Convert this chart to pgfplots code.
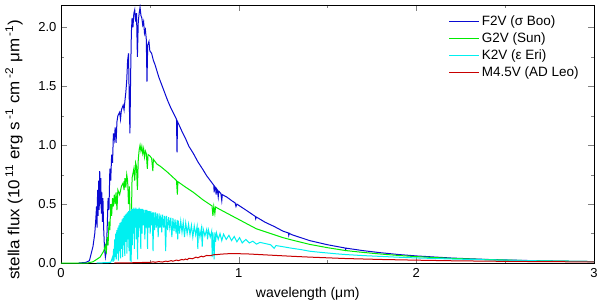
\documentclass[border=0pt]{standalone}
\usepackage{pgfplots}
\pgfplotsset{compat=1.18}
\usepackage{graphicx}
\usepackage{fontspec}
\setmainfont{Liberation Sans}
\definecolor{cF}{RGB}{10,10,210}
\definecolor{cG}{RGB}{0,235,0}
\definecolor{cK}{RGB}{0,240,240}
\definecolor{cM}{RGB}{200,0,0}
\begin{document}
\begin{tikzpicture}
\begin{axis}[
  name=ax,
  scale only axis, width=533pt, height=258pt,
  xmin=0, xmax=3, ymin=0, ymax=2.19,
  xtick={0,1,2,3}, minor x tick num=1,
  ytick={0,0.5,1,1.5,2}, minor y tick num=1,
  tick pos=both, tick align=inside,
  major tick length=6pt, minor tick length=3.5pt,
  /pgf/number format/assume math mode=true,
  yticklabel style={/pgf/number format/fixed, /pgf/number format/fixed zerofill, /pgf/number format/precision=1, xshift=-1pt},
  every tick label/.append style={font=\fontsize{13}{15}\selectfont},
  xticklabel style={yshift=-2pt},
  xlabel={wavelength (μm)},
  ylabel={\scalebox{1.06}[1]{stella flux (10\kern0.15em\textsuperscript{11} erg s\kern0.15em\textsuperscript{-1} cm\kern0.15em\textsuperscript{-2} μm\kern0.15em\textsuperscript{-1})}},
  xlabel style={font=\fontsize{14}{16}\selectfont, at={(axis description cs:0.463,-0.12)}, anchor=center},
  ylabel style={font=\fontsize{16}{18}\selectfont, at={(axis description cs:-0.088,0.44)}, anchor=center},
  legend style={draw=none, fill=none, at={(0.981,0.973)}, anchor=north east,
    font=\fontsize{13.5}{15}\selectfont, row sep=1.5pt},
  legend cell align=left,
  legend image code/.code={\draw[#1] (0pt,0pt) -- (30pt,0pt);},
  every axis plot/.append style={line width=1pt},
]
\addplot[cF] coordinates {
(0.10,0) (0.14,0.005) (0.16,0.02) (0.17,0.08) (0.18,0.14) (0.19,0.25) (0.195,0.35)
(0.20,0.48) (0.203,0.30) (0.206,0.62) (0.209,0.40) (0.212,0.70) (0.215,0.45) (0.218,0.78)
(0.221,0.50) (0.224,0.72) (0.227,0.42) (0.230,0.60) (0.233,0.35) (0.236,0.55) (0.240,0.30)
(0.245,0.12) (0.25,0.05) (0.255,0.10) (0.26,0.30) (0.265,0.55) (0.27,0.45) (0.275,0.80)
(0.28,0.70) (0.285,0.92) (0.29,0.85) (0.295,1.10) (0.30,1.05) (0.305,1.15) (0.31,1.02)
(0.315,1.20) (0.32,1.25) (0.33,1.28) (0.335,1.22) (0.34,1.30) (0.35,1.34) (0.355,1.30)
(0.36,1.38) (0.365,1.45) (0.37,1.55) (0.375,1.72) (0.38,1.78) (0.384,1.40) (0.388,1.10)
(0.392,1.60) (0.396,1.95) (0.40,2.08) (0.405,2.00) (0.41,2.12) (0.415,2.15) (0.42,2.05)
(0.425,2.12) (0.43,1.75) (0.435,2.05) (0.44,2.12) (0.445,2.17) (0.45,2.10) (0.455,2.08)
(0.46,2.02) (0.465,2.05) (0.47,1.95) (0.475,1.98) (0.48,1.90) (0.484,1.54) (0.488,1.85)
(0.495,1.88) (0.50,1.80) (0.51,1.78) (0.52,1.72) (0.53,1.68) (0.54,1.63) (0.55,1.58)
(0.56,1.54) (0.58,1.46) (0.60,1.38) (0.62,1.31) (0.64,1.25) (0.65,1.22) (0.653,0.94)
(0.656,1.20) (0.68,1.12) (0.70,1.06) (0.72,0.99) (0.745,0.93) (0.77,0.86) (0.80,0.79)
(0.82,0.74) (0.84,0.70) (0.86,0.66) (0.862,0.60) (0.865,0.65) (0.87,0.64) (0.873,0.58)
(0.876,0.63) (0.88,0.62) (0.885,0.56) (0.888,0.61) (0.90,0.59) (0.905,0.53) (0.908,0.58)
(0.933,0.56) (0.96,0.53) (0.98,0.51) (0.985,0.48) (0.99,0.50) (1.00,0.49) (1.05,0.44)
(1.094,0.395) (1.096,0.375) (1.10,0.39) (1.15,0.345) (1.20,0.31) (1.25,0.27) (1.28,0.255)
(1.282,0.235) (1.285,0.252) (1.30,0.24) (1.40,0.19) (1.50,0.155) (1.60,0.127) (1.602,0.115)
(1.605,0.126) (1.70,0.105) (1.80,0.087) (1.90,0.072) (2.0,0.06) (2.2,0.042) (2.4,0.03)
(2.6,0.022) (2.8,0.016) (3.0,0.012)
};
\addlegendentry{F2V (σ Boo)}
\addplot[cG] coordinates {
(0,0) (0.15,0) (0.18,0.01) (0.20,0.03) (0.22,0.05) (0.24,0.10) (0.25,0.15) (0.255,0.08)
(0.26,0.22) (0.265,0.15) (0.27,0.35) (0.275,0.28) (0.28,0.50) (0.285,0.40) (0.29,0.55)
(0.295,0.48) (0.30,0.58) (0.305,0.50) (0.31,0.60) (0.315,0.45) (0.32,0.62) (0.33,0.58)
(0.34,0.65) (0.35,0.68) (0.355,0.62) (0.36,0.72) (0.365,0.64) (0.37,0.75) (0.375,0.70)
(0.38,0.50) (0.385,0.65) (0.39,0.28) (0.393,0.25) (0.397,0.45) (0.40,0.72) (0.41,0.80)
(0.415,0.70) (0.42,0.85) (0.425,0.82) (0.43,0.62) (0.435,0.88) (0.44,0.96) (0.445,1.00)
(0.45,0.95) (0.455,0.99) (0.46,0.93) (0.465,0.97) (0.47,0.90) (0.475,0.95) (0.48,0.93)
(0.486,0.80) (0.49,0.92) (0.50,0.91) (0.51,0.89) (0.517,0.78) (0.52,0.88) (0.53,0.86)
(0.54,0.84) (0.56,0.82) (0.60,0.77) (0.65,0.70) (0.655,0.58) (0.658,0.69) (0.70,0.645)
(0.745,0.60) (0.80,0.535) (0.85,0.485) (0.855,0.40) (0.86,0.48) (0.866,0.42) (0.87,0.475)
(0.90,0.45) (0.95,0.41) (1.00,0.37) (1.05,0.33) (1.10,0.29) (1.15,0.265) (1.20,0.24)
(1.25,0.215) (1.30,0.195) (1.40,0.158) (1.50,0.13) (1.60,0.106) (1.70,0.09) (1.80,0.076)
(1.90,0.064) (2.0,0.054) (2.2,0.039) (2.4,0.029) (2.6,0.021) (2.8,0.016) (3.0,0.012)
};
\addlegendentry{G2V (Sun)}
\addplot[cK] coordinates {
(0.20,0) (0.28,0.005) (0.29,0.05) (0.293,0.01) (0.296,0.12) (0.299,0.02) (0.302,0.20)
(0.305,0.05) (0.308,0.25) (0.311,0.03) (0.314,0.28) (0.317,0.08) (0.320,0.30) (0.323,0.02)
(0.326,0.32) (0.329,0.10) (0.332,0.34) (0.335,0.04) (0.338,0.35) (0.341,0.12) (0.344,0.37)
(0.347,0.05) (0.350,0.38) (0.353,0.15) (0.356,0.40) (0.359,0.06) (0.362,0.41) (0.365,0.18)
(0.368,0.42) (0.371,0.08) (0.374,0.43) (0.377,0.20) (0.380,0.44) (0.383,0.10) (0.386,0.45)
(0.389,0.02) (0.392,0.44) (0.395,0.01) (0.398,0.46) (0.401,0.15) (0.404,0.46) (0.407,0.25)
(0.410,0.47) (0.413,0.12) (0.416,0.46) (0.419,0.30) (0.422,0.47) (0.425,0.20) (0.428,0.46)
(0.431,0.03) (0.434,0.46) (0.437,0.22) (0.440,0.47) (0.443,0.30) (0.446,0.46) (0.449,0.12)
(0.452,0.46) (0.456,0.25) (0.460,0.46) (0.464,0.32) (0.468,0.45) (0.472,0.20) (0.476,0.45)
(0.480,0.30) (0.484,0.45) (0.487,0.12) (0.490,0.44) (0.494,0.30) (0.498,0.44) (0.502,0.25)
(0.506,0.44) (0.510,0.32) (0.514,0.43) (0.518,0.10) (0.522,0.43) (0.527,0.28) (0.532,0.43)
(0.537,0.30) (0.542,0.42) (0.547,0.22) (0.552,0.42) (0.557,0.30) (0.562,0.41) (0.567,0.26)
(0.572,0.41) (0.578,0.30) (0.584,0.40) (0.589,0.10) (0.594,0.40) (0.600,0.28) (0.606,0.39)
(0.612,0.30) (0.618,0.385) (0.624,0.22) (0.630,0.38) (0.636,0.27) (0.642,0.37) (0.648,0.25)
(0.654,0.365) (0.657,0.20) (0.660,0.36) (0.667,0.25) (0.674,0.355) (0.681,0.26) (0.688,0.345)
(0.695,0.22) (0.702,0.34) (0.710,0.25) (0.718,0.33) (0.726,0.24) (0.734,0.32) (0.742,0.22)
(0.750,0.315) (0.758,0.24) (0.766,0.31) (0.770,0.12) (0.774,0.30) (0.782,0.22) (0.790,0.295)
(0.795,0.14) (0.800,0.29) (0.810,0.23) (0.820,0.285) (0.825,0.20) (0.830,0.28) (0.840,0.22)
(0.848,0.27) (0.851,0.05) (0.855,0.26) (0.862,0.03) (0.866,0.26) (0.870,0.18) (0.875,0.255)
(0.885,0.20) (0.895,0.25) (0.905,0.19) (0.915,0.245) (0.930,0.20) (0.945,0.235) (0.960,0.19)
(0.975,0.225) (0.990,0.18) (1.005,0.215) (1.02,0.17) (1.04,0.20) (1.06,0.17) (1.08,0.185)
(1.10,0.16) (1.12,0.175) (1.15,0.165) (1.18,0.155) (1.20,0.125) (1.21,0.148) (1.25,0.138)
(1.30,0.125) (1.35,0.114) (1.40,0.10) (1.45,0.092) (1.50,0.085) (1.55,0.078) (1.60,0.072)
(1.70,0.063) (1.80,0.056) (1.90,0.049) (2.00,0.043) (2.20,0.034) (2.40,0.027) (2.60,0.021)
(2.80,0.016) (3.00,0.012)
};
\addlegendentry{K2V (ε Eri)}
\addplot[cM] coordinates {
(0.30,0) (0.40,0.002) (0.45,0.004) (0.50,0.006) (0.52,0.01) (0.53,0.006) (0.55,0.012)
(0.57,0.008) (0.59,0.016) (0.60,0.012) (0.62,0.02) (0.63,0.015) (0.65,0.025) (0.66,0.02)
(0.68,0.03) (0.69,0.026) (0.70,0.034) (0.71,0.028) (0.72,0.04) (0.74,0.036) (0.76,0.05)
(0.77,0.044) (0.79,0.058) (0.80,0.052) (0.82,0.064) (0.84,0.062) (0.86,0.07) (0.88,0.072)
(0.90,0.075) (0.93,0.078) (0.96,0.08) (1.00,0.079) (1.05,0.077) (1.10,0.073) (1.20,0.065)
(1.30,0.057) (1.40,0.05) (1.50,0.044) (1.60,0.038) (1.80,0.03) (2.00,0.024) (2.20,0.019)
(2.50,0.014) (3.00,0.009)
};
\addlegendentry{M4.5V (AD Leo)}
\end{axis}
\pgfresetboundingbox
\path ([shift={(-61pt,-40pt)}]ax.south west) rectangle ([shift={(6pt,5pt)}]ax.north east);
\end{tikzpicture}
\end{document}
